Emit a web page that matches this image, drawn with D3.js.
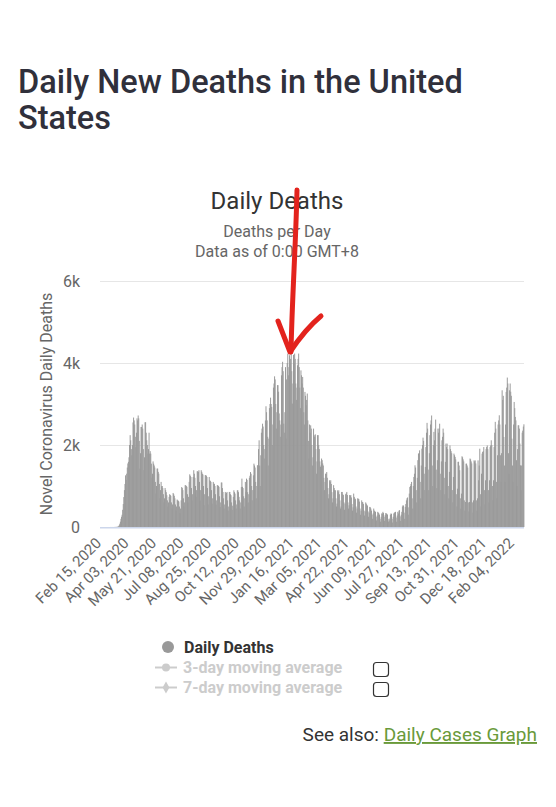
<!DOCTYPE html>
<html><head><meta charset="utf-8">
<script src="https://cdn.jsdelivr.net/npm/d3@7"></script>
<style>
html,body{margin:0;padding:0;background:#fff;}
svg{display:block;font-family:Roboto,"Noto Sans",sans-serif;}
</style></head><body>
<svg id="c" width="556" height="807"></svg>
<script>
// ---- data (daily new deaths, one row = 7 days, starting Feb 15, 2020) ----
const startDate = "2020-02-15";
const wave2020Spring = [
  0,0,0,0,0,0,0,
  0,0,0,0,0,0,0,
  0,0,1,0,1,0,1,
  0,1,1,2,2,3,4,
  5,10,20,45,80,130,200,
  250,300,420,560,730,900,1050,
  1260,1150,1300,1450,1550,1590,1700,
  2000,2240,2115,1900,1750,2000,2550,
  2670,2600,2500,2200,1950,2300,2650,
  2600,2720,2650,2100,1425,1800,2440,
  2440,2500,2400,1900,1385,1700,2555,
  2555,2300,2115,2000,1790,1900,2300,
  1790,1850,1790,1545,1200,1300,1600,
  1545,1500,1450,1100,815,1000,1425,
  1425,1345,1300,1050,700,900,1100,
  995,1000,950,800,600,700,950,
  900,850,775,650,500,600,735,
  800,780,760,600,450,550,830,
  800,760,700,550,400,500,670,
  650,640,620,500,340,450,650
];
const wave2020Summer = [
  975,950,900,700,500,600,1020,
  1020,1000,980,800,600,735,1100,
  1285,1250,1220,950,650,800,1220,
  1385,1300,1200,1000,735,900,1360,
  1360,1340,1385,1100,650,900,1385,
  1345,1300,1280,1000,530,800,1265,
  1265,1250,1220,950,550,750,1220,
  1140,1120,1100,900,570,700,1100,
  1060,1050,1000,800,545,650,1020,
  1020,1000,980,750,490,600,1085,
  1085,950,855,700,450,550,855,
  815,830,855,650,400,500,855,
  855,800,775,600,420,520,735,
  895,850,815,650,450,550,895,
  895,850,735,650,450,600,975,
  1180,980,950,750,500,700,1100,
  855,1180,1150,850,600,800,1200,
  1250,1340,1300,1000,650,900,1260,
  1545,1500,1450,1100,700,1000,1505
];
const wave2020Winter = [
  1505,1900,2115,1500,1000,1750,2300,
  2400,2520,2450,2000,1670,1900,2600,
  2945,2800,2600,2200,1500,2155,2900,
  3000,3155,3000,2930,2000,2500,3400,
  3500,3675,3600,3000,2400,2800,3460,
  3460,3300,2770,2600,2200,2500,3700,
  3900,4030,3800,2520,2300,2800,3900,
  2155,3600,4000,4230,3700,3900,4190,
  4000,4100,4230,3800,3010,3500,4200,
  4000,4230,4100,3500,3100,3400,3945,
  4100,4230,3900,3400,2900,3820,3700,
  3500,3660,3400,2800,2500,3295,3200,
  2970,3100,3255,2600,2100,1670,2500,
  2300,2480,2400,2000,1500,1700,2400,
  2240,2200,2260,1900,1300,1600,2240,
  2240,2000,1900,1600,1465,1500,1670,
  1630,1550,1500,1200,900,1100,1300,
  1300,1340,1200,950,700,800,1140,
  1100,1140,1050,850,600,700,1020
];
const wave2021Spring = [
  950,900,895,700,500,570,895,
  850,895,800,650,450,500,855,
  855,800,780,600,420,570,800,
  820,855,780,600,450,530,780,
  760,780,720,560,400,480,815,
  735,700,680,500,350,450,700,
  690,680,620,450,300,400,650,
  610,600,560,400,280,380,600,
  570,540,520,380,250,350,490,
  480,450,400,300,200,330,450,
  400,380,370,250,160,280,370,
  350,330,300,200,130,250,330,
  330,370,340,250,150,290,340,
  330,320,300,200,130,160,205,
  300,330,320,200,110,250,330,
  350,360,370,230,130,280,370,
  330,400,410,260,150,300,370
];
const wave2021Delta = [
  500,530,520,350,200,490,560,
  650,700,720,480,300,815,975,
  1000,1050,1100,700,450,1000,1220,
  1300,1505,1450,900,600,1200,1630,
  1790,1800,1870,1100,700,1500,1910,
  2000,2180,2100,1300,900,1465,1950,
  2300,2540,2400,1400,900,1800,2240,
  2500,2600,2720,1500,1000,2000,2320,
  2115,2400,2620,1400,950,1630,2400,
  2300,2400,2520,1300,900,1600,2115,
  2200,2400,2300,1200,800,1590,2035,
  1950,2035,1900,1000,700,1345,1990,
  1900,1850,1800,900,600,1220,1790,
  1750,1710,1650,800,500,935,1590,
  1590,1500,1385,700,450,815,1725,
  1700,1650,1600,650,400,610,1545,
  1545,1500,1450,600,380,610,1670,
  1650,1600,1550,600,350,650,1625,
  1600,1625,1550,650,400,700,1625
];
const wave2022Omicron = [
  1140,1500,1910,800,500,1300,1790,
  1830,1850,1950,900,550,1140,1900,
  1950,1990,1900,900,600,1140,1950,
  1990,2115,2000,1000,650,1140,1950,
  2300,2565,2400,1100,700,1750,2500,
  2600,2725,2500,1750,1100,1800,3335,
  3100,3200,2195,1500,1100,2500,3295,
  3400,3645,3500,1800,1300,3335,3500,
  3300,3200,2155,1500,1100,2500,3050,
  2900,2685,2600,1630,1000,1900,2480,
  2480,2400,2035,1505,900,1500,2300,
  2350,2450,2505
];
const tickLabels = ["Feb 15, 2020","Apr 03, 2020","May 21, 2020","Jul 08, 2020","Aug 25, 2020",
  "Oct 12, 2020","Nov 29, 2020","Jan 16, 2021","Mar 05, 2021","Apr 22, 2021","Jun 09, 2021",
  "Jul 27, 2021","Sep 13, 2021","Oct 31, 2021","Dec 18, 2021","Feb 04, 2022"];
const tickEvery = 48;
const yTickValues = [0,2000,4000,6000];
const yTickLabels = ["0","2k","4k","6k"];
const legendNames = ["Daily Deaths","3-day moving average","7-day moving average"];

// ---- build ----
const deaths = [].concat(wave2020Spring, wave2020Summer, wave2020Winter, wave2021Spring, wave2021Delta, wave2022Omicron);
const start = d3.timeParse("%Y-%m-%d")(startDate);
const categories = d3.timeDay.range(start, d3.timeDay.offset(start, deaths.length));
const data = categories.map((d,i)=>({date:d, v:deaths[i]}));

const svg = d3.select("#c");
const L=100, R=524, T=281, B=527;
const x = d3.scaleBand().domain(categories.map(d=>+d)).range([101, R]).padding(0);
const y = d3.scaleLinear().domain([0,6000]).range([B, T]);
const bw = x.bandwidth();

// page title
const tt = svg.append("text").attr("x",18).attr("font-size",32.5).attr("font-weight",500).attr("fill","#30303b");
tt.append("tspan").attr("x",18).attr("y",92.5).text("Daily New Deaths in the United");
tt.append("tspan").attr("x",18).attr("y",128.5).text("States");

// chart titles
svg.append("text").attr("x",277).attr("y",209).attr("text-anchor","middle").attr("font-size",24).attr("fill","#333").text("Daily Deaths");
svg.append("text").attr("x",277).attr("y",237).attr("text-anchor","middle").attr("font-size",16).attr("fill","#666").text("Deaths per Day");
svg.append("text").attr("x",277).attr("y",257).attr("text-anchor","middle").attr("font-size",16).attr("fill","#666").text("Data as of 0:00 GMT+8");

// grid
svg.append("g").selectAll("line").data(yTickValues.filter(v=>v>0)).join("line")
  .attr("x1",L).attr("x2",R).attr("y1",d=>Math.round(y(d))+0.5).attr("y2",d=>Math.round(y(d))+0.5)
  .attr("stroke","#e6e6e6").attr("stroke-width",1);

// bars
svg.append("g").selectAll("rect").data(data).join("rect")
  .attr("x",d=>x(+d.date)).attr("width",bw+0.4)
  .attr("y",d=>y(d.v)).attr("height",d=>B-y(d.v))
  .attr("fill","#999999");

// x axis line
svg.append("line").attr("x1",L).attr("x2",R).attr("y1",B+0.75).attr("y2",B+0.75).attr("stroke","#ccd6eb").attr("stroke-width",1.5);

// y labels
svg.append("g").selectAll("text").data(yTickValues).join("text")
  .attr("x",80).attr("y",d=>y(d)+5.5).attr("text-anchor","end").attr("font-size",16).attr("fill","#666")
  .text((d,i)=>yTickLabels[i]);
svg.append("text").attr("transform","translate(46,404) rotate(-90)").attr("text-anchor","middle")
  .attr("dominant-baseline","central").attr("font-size",16).attr("fill","#666").text("Novel Coronavirus Daily Deaths");

// x labels
svg.append("g").selectAll("text").data(tickLabels).join("text")
  .attr("transform",(d,i)=>`translate(${x(+categories[i*tickEvery])+bw/2+1},544) rotate(-45)`)
  .attr("text-anchor","end").attr("font-size",15).attr("fill","#666").text(d=>d);

// annotation arrow
svg.append("path").attr("d","M297,190 C296,240 292,300 291,352").attr("fill","none").attr("stroke","#e3231d").attr("stroke-width",5).attr("stroke-linecap","round");
svg.append("path").attr("d","M278,321 L290,352 C298,340 309,326 321,316").attr("fill","none").attr("stroke","#e3231d").attr("stroke-width",5).attr("stroke-linecap","round").attr("stroke-linejoin","round");

// legend
const lg = svg.append("g");
lg.append("circle").attr("cx",168).attr("cy",647).attr("r",6).attr("fill","#999");
lg.append("text").attr("x",184).attr("y",653).attr("font-size",16).attr("font-weight",700).attr("fill","#333").text(legendNames[0]);
[[667.5,"circle"],[687.5,"diamond"]].forEach((s,i)=>{
  lg.append("line").attr("x1",155).attr("x2",177).attr("y1",s[0]).attr("y2",s[0]).attr("stroke","#ccc").attr("stroke-width",2);
  lg.append("path").attr("transform",`translate(166,${s[0]})`).attr("d",d3.symbol(s[1]==="circle"?d3.symbolCircle:d3.symbolDiamond, s[1]==="circle"?50:40)()).attr("fill","#ccc");
  lg.append("text").attr("x",183).attr("y",s[0]+5.5).attr("font-size",16).attr("font-weight",700).attr("fill","#ccc").text(legendNames[i+1]);
  lg.append("rect").attr("x",373.5).attr("y",s[0]-5).attr("width",15).attr("height",14).attr("rx",3).attr("fill","none").attr("stroke","#333").attr("stroke-width",1.2);
});

// footer
const ft = svg.append("text").attr("x",537).attr("y",741).attr("text-anchor","end").attr("font-size",19);
ft.append("tspan").attr("fill","#333").text("See also: ");
ft.append("tspan").attr("fill","#6a9a3a").attr("text-decoration","underline").text("Daily Cases Graph");
</script>
</body></html>
